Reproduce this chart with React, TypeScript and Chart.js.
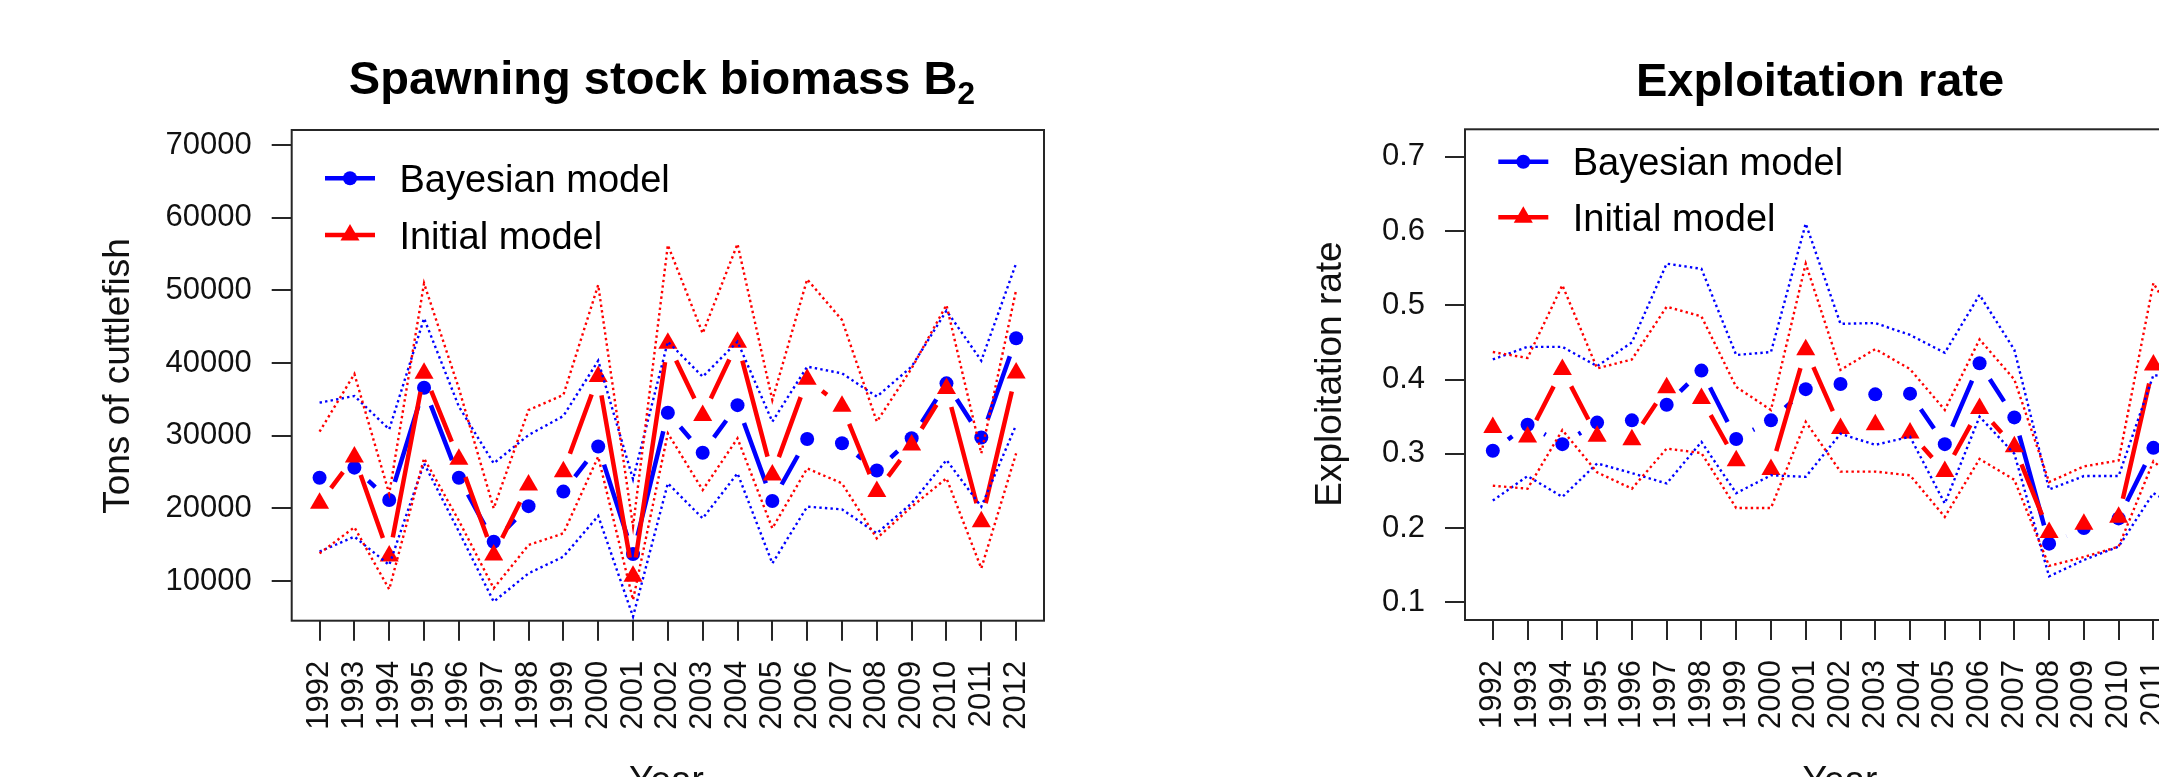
import React, { useEffect, useRef } from 'react';
import { Chart, registerables } from 'chart.js';

Chart.register(...registerables);

const FONT = "'Liberation Sans', Arial, Helvetica, sans-serif";
Chart.defaults.font.family = FONT;

// ---------- data ----------
const years = [1992, 1993, 1994, 1995, 1996, 1997, 1998, 1999, 2000, 2001, 2002, 2003, 2004, 2005, 2006, 2007, 2008, 2009, 2010, 2011, 2012];
const seriesNames = ['Bayesian model', 'Initial model'];

// Spawning stock biomass B2 (tons of cuttlefish)
const ssbBayes = [24200, 25600, 21150, 36600, 24200, 15400, 20300, 22300, 28500, 13700, 33150, 27650, 34200, 21000, 29550, 28950, 25200, 29650, 37200, 29750, 43400];
const ssbBayesHigh = [34540, 35460, 30870, 46150, 34000, 26190, 30090, 32700, 40320, 24000, 42940, 38120, 42940, 31930, 39500, 38580, 35370, 39500, 47200, 40320, 53720];
const ssbBayesLow = [14040, 16100, 12200, 26190, 16800, 7160, 11055, 13350, 18950, 5100, 23440, 18620, 24820, 12430, 20230, 19860, 16560, 20690, 26650, 20230, 31470];
const ssbInitial = [20700, 27070, 13440, 38590, 26750, 13590, 23220, 25050, 38130, 10650, 42710, 32760, 42850, 24590, 37760, 34040, 22300, 28720, 36480, 18170, 38630];
const ssbInitialHigh = [30550, 38490, 22000, 50960, 36500, 20000, 33530, 35600, 50730, 17500, 56240, 44080, 56380, 34900, 51510, 45920, 31930, 39270, 47980, 27570, 50050];
const ssbInitialLow = [13800, 17390, 8850, 26880, 18300, 8990, 14950, 16560, 27110, 7400, 30320, 22520, 29630, 17250, 25500, 23440, 15870, 20230, 24130, 11740, 27570];
const ssbTickValues = [10000, 20000, 30000, 40000, 50000, 60000, 70000];

// Exploitation rate
const erBayes = [0.304, 0.339, 0.313, 0.342, 0.345, 0.366, 0.412, 0.320, 0.345, 0.387, 0.394, 0.380, 0.381, 0.313, 0.422, 0.349, 0.179, 0.200, 0.213, 0.308, 0.300];
const erBayesHigh = [0.427, 0.444, 0.444, 0.418, 0.450, 0.556, 0.549, 0.433, 0.437, 0.610, 0.475, 0.476, 0.460, 0.436, 0.514, 0.440, 0.252, 0.270, 0.270, 0.406, 0.400];
const erBayesLow = [0.237, 0.270, 0.242, 0.287, 0.274, 0.260, 0.316, 0.247, 0.271, 0.269, 0.327, 0.312, 0.323, 0.233, 0.350, 0.300, 0.135, 0.157, 0.175, 0.247, 0.220];
const erInitial = [0.3355, 0.3225, 0.4135, 0.3235, 0.319, 0.389, 0.3745, 0.2905, 0.279, 0.440, 0.334, 0.339, 0.328, 0.276, 0.361, 0.3095, 0.194, 0.205, 0.2145, 0.4195, 0.330];
const erInitialHigh = [0.437, 0.429, 0.527, 0.415, 0.427, 0.498, 0.485, 0.390, 0.359, 0.556, 0.413, 0.441, 0.414, 0.359, 0.454, 0.400, 0.262, 0.283, 0.291, 0.530, 0.450];
const erInitialLow = [0.257, 0.253, 0.332, 0.275, 0.253, 0.307, 0.301, 0.227, 0.227, 0.343, 0.276, 0.276, 0.271, 0.215, 0.293, 0.265, 0.149, 0.161, 0.175, 0.290, 0.250];
const erTickValues = [0.1, 0.2, 0.3, 0.4, 0.5, 0.6, 0.7];

// ---------- styling ----------
const BLUE = '#0000ff';
const RED = '#ff0000';
const AXIS = '#262626';
const TEXT = '#111111';

type Panel = {
  canvasLeft: number; width: number; height: number;
  padTop: number; padRight: number; yAxisWidth: number; xAxisHeight: number;
  xMin: number; xMax: number; yMin: number; yMax: number;
  yTicks: number[]; yFormat: (v: number) => string;
  bayes: number[]; bayesLow: number[]; bayesHigh: number[];
  initial: number[]; initialLow: number[]; initialHigh: number[];
  title: string; titleSub: string; titleCx: number; titleBaseline: number;
  yTitle: string; yTitleBaseline: number; yTitleCy: number;
  xTitle: string; xTitleCx: number; xTitleBaseline: number;
  legendX: number; legendY: number; legendStep: number;
};

function drawMarker(ctx: CanvasRenderingContext2D, style: string, x: number, y: number, r: number, color: string) {
  ctx.fillStyle = color;
  ctx.beginPath();
  if (style === 'circle') {
    ctx.arc(x, y, r, 0, Math.PI * 2);
  } else {
    const s = r * Math.sin(Math.PI / 3);
    ctx.moveTo(x, y - r);
    ctx.lineTo(x + s, y + r / 2);
    ctx.lineTo(x - s, y + r / 2);
    ctx.closePath();
  }
  ctx.fill();
}

const CIRCLE_R = 7;
const TRI_R = 11;
const MAIN_W = 4.5;
const GAP = 19;

function makeDecor(p: Panel) {
  return {
    id: 'decor',
    beforeDatasetDraw(chart: any, args: any) {
      const ds = chart.data.datasets[args.index];
      if (!ds.gapLine) return;
      const pts = args.meta.data;
      const ctx = chart.ctx as CanvasRenderingContext2D;
      ctx.save();
      ctx.strokeStyle = ds.gapLine.color;
      ctx.lineWidth = ds.gapLine.width;
      ctx.lineCap = 'butt';
      ctx.beginPath();
      for (let i = 1; i < pts.length; i++) {
        const a = pts[i - 1];
        const b = pts[i];
        const dx = b.x - a.x;
        const dy = b.y - a.y;
        const d = Math.hypot(dx, dy);
        const f = ds.gapLine.gap / d;
        if (f >= 0.5) continue;
        ctx.moveTo(a.x + f * dx, a.y + f * dy);
        ctx.lineTo(b.x - f * dx, b.y - f * dy);
      }
      ctx.stroke();
      ctx.restore();
    },
    afterDraw(chart: any) {
      const ctx = chart.ctx as CanvasRenderingContext2D;
      const ca = chart.chartArea;
      ctx.save();
      // plot box
      ctx.strokeStyle = AXIS;
      ctx.lineWidth = 2;
      ctx.setLineDash([]);
      ctx.strokeRect(ca.left, ca.top, ca.right - ca.left, ca.bottom - ca.top);

      // title
      ctx.fillStyle = '#000';
      ctx.textBaseline = 'alphabetic';
      ctx.textAlign = 'left';
      ctx.font = `bold 47px ${FONT}`;
      const wMain = ctx.measureText(p.title).width;
      let wSub = 0;
      if (p.titleSub) {
        ctx.font = `bold 32px ${FONT}`;
        wSub = ctx.measureText(p.titleSub).width;
      }
      const tx = p.titleCx - (wMain + wSub) / 2;
      ctx.font = `bold 47px ${FONT}`;
      ctx.fillText(p.title, tx, p.titleBaseline);
      if (p.titleSub) {
        ctx.font = `bold 32px ${FONT}`;
        ctx.fillText(p.titleSub, tx + wMain, p.titleBaseline + 10);
      }

      // y title
      ctx.font = `37px ${FONT}`;
      ctx.fillStyle = TEXT;
      ctx.save();
      ctx.translate(p.yTitleBaseline, p.yTitleCy);
      ctx.rotate(-Math.PI / 2);
      ctx.textAlign = 'center';
      ctx.fillText(p.yTitle, 0, 0);
      ctx.restore();

      // x title
      ctx.textAlign = 'center';
      ctx.fillText(p.xTitle, p.xTitleCx, p.xTitleBaseline);

      // legend
      const items = [
        { name: seriesNames[0], color: BLUE, style: 'circle', r: CIRCLE_R },
        { name: seriesNames[1], color: RED, style: 'triangle', r: TRI_R },
      ];
      items.forEach((it, i) => {
        const y = p.legendY + i * p.legendStep;
        ctx.strokeStyle = it.color;
        ctx.lineWidth = MAIN_W;
        ctx.beginPath();
        ctx.moveTo(p.legendX, y);
        ctx.lineTo(p.legendX + 50, y);
        ctx.stroke();
        drawMarker(ctx, it.style, p.legendX + 25, y, it.r, it.color);
        ctx.fillStyle = '#000';
        ctx.font = `38px ${FONT}`;
        ctx.textAlign = 'left';
        ctx.fillText(it.name, p.legendX + 74.4, y + 13.5);
      });
      ctx.restore();
    },
  };
}

function toPoints(vals: number[]) {
  return years.map((x, i) => ({ x, y: vals[i] }));
}

function ciDataset(vals: number[], color: string) {
  return {
    data: toPoints(vals),
    showLine: true,
    borderColor: color,
    borderWidth: 2.4,
    borderDash: [2.4, 3.2],
    pointRadius: 0,
    fill: false,
    tension: 0,
  };
}

function mainDataset(label: string, vals: number[], color: string, style: string, r: number) {
  return {
    label,
    data: toPoints(vals),
    showLine: false,
    borderColor: color,
    backgroundColor: color,
    pointStyle: style,
    pointRadius: r,
    pointBackgroundColor: color,
    pointBorderWidth: 0,
    gapLine: { color, width: MAIN_W, gap: GAP },
  };
}

function makeConfig(p: Panel): any {
  const grid = {
    drawOnChartArea: false,
    drawTicks: true,
    tickLength: 20,
    color: AXIS,
    lineWidth: 2,
  };
  return {
    type: 'line',
    data: {
      datasets: [
        ciDataset(p.initialHigh, RED),
        ciDataset(p.initialLow, RED),
        ciDataset(p.bayesHigh, BLUE),
        ciDataset(p.bayesLow, BLUE),
        mainDataset(seriesNames[1], p.initial, RED, 'triangle', TRI_R),
        mainDataset(seriesNames[0], p.bayes, BLUE, 'circle', CIRCLE_R),
      ],
    },
    options: {
      responsive: false,
      animation: false,
      devicePixelRatio: 1,
      events: [],
      layout: { padding: { top: p.padTop, right: p.padRight, left: 0, bottom: 0 } },
      plugins: {
        legend: { display: false },
        tooltip: { enabled: false },
        title: { display: false },
      },
      scales: {
        x: {
          type: 'linear',
          min: p.xMin,
          max: p.xMax,
          afterBuildTicks: (s: any) => { s.ticks = years.map((v) => ({ value: v })); },
          afterFit: (s: any) => { s.height = p.xAxisHeight; },
          grid,
          border: { display: false },
          ticks: {
            autoSkip: false,
            minRotation: 90,
            maxRotation: 90,
            padding: 20,
            color: TEXT,
            font: { size: 31, family: FONT },
            callback: (v: number) => String(v),
          },
        },
        y: {
          type: 'linear',
          min: p.yMin,
          max: p.yMax,
          afterBuildTicks: (s: any) => { s.ticks = p.yTicks.map((v) => ({ value: v })); },
          afterFit: (s: any) => { s.width = p.yAxisWidth; },
          grid,
          border: { display: false },
          ticks: {
            padding: 20,
            color: TEXT,
            font: { size: 31, family: FONT },
            callback: (v: number) => p.yFormat(v),
          },
        },
      },
    },
    plugins: [makeDecor(p)],
  };
}

const leftPanel: Panel = {
  canvasLeft: 0, width: 1100, height: 820,
  padTop: 130, padRight: 56, yAxisWidth: 291.7, xAxisHeight: 199.3,
  xMin: 1991.2, xMax: 2012.8, yMin: 4537, yMax: 72064,
  yTicks: ssbTickValues, yFormat: (v) => String(Math.round(v)),
  bayes: ssbBayes, bayesLow: ssbBayesLow, bayesHigh: ssbBayesHigh,
  initial: ssbInitial, initialLow: ssbInitialLow, initialHigh: ssbInitialHigh,
  title: 'Spawning stock biomass B', titleSub: '2', titleCx: 662, titleBaseline: 94,
  yTitle: 'Tons of cuttlefish', yTitleBaseline: 129, yTitleCy: 376,
  xTitle: 'Year', xTitleCx: 666.5, xTitleBaseline: 792,
  legendX: 325, legendY: 178.3, legendStep: 56.7,
};

const rightPanel: Panel = {
  canvasLeft: 1160, width: 1100, height: 820,
  padTop: 129.3, padRight: 44, yAxisWidth: 305, xAxisHeight: 200,
  xMin: 1991.2, xMax: 2012.8, yMin: 0.0762, yMax: 0.7369,
  yTicks: erTickValues, yFormat: (v) => v.toFixed(1),
  bayes: erBayes, bayesLow: erBayesLow, bayesHigh: erBayesHigh,
  initial: erInitial, initialLow: erInitialLow, initialHigh: erInitialHigh,
  title: 'Exploitation rate', titleSub: '', titleCx: 1820 - 1160, titleBaseline: 96,
  yTitle: 'Exploitation rate', yTitleBaseline: 1341 - 1160, yTitleCy: 374,
  xTitle: 'Year', xTitleCx: 1840 - 1160, xTitleBaseline: 792,
  legendX: 1498.3 - 1160, legendY: 161.7, legendStep: 55.6,
};

function PanelChart({ panel }: { panel: Panel }) {
  const ref = useRef<HTMLCanvasElement | null>(null);
  useEffect(() => {
    if (!ref.current) return;
    const chart = new Chart(ref.current, makeConfig(panel));
    return () => chart.destroy();
  }, [panel]);
  return (
    <canvas
      ref={ref}
      width={panel.width}
      height={panel.height}
      style={{ position: 'absolute', left: panel.canvasLeft, top: 0, width: panel.width, height: panel.height }}
    />
  );
}

export default function App() {
  return (
    <div style={{ position: 'fixed', left: 0, top: 0, width: 2159, height: 777, overflow: 'hidden', background: '#ffffff' }}>
      <PanelChart panel={leftPanel} />
      <PanelChart panel={rightPanel} />
    </div>
  );
}
